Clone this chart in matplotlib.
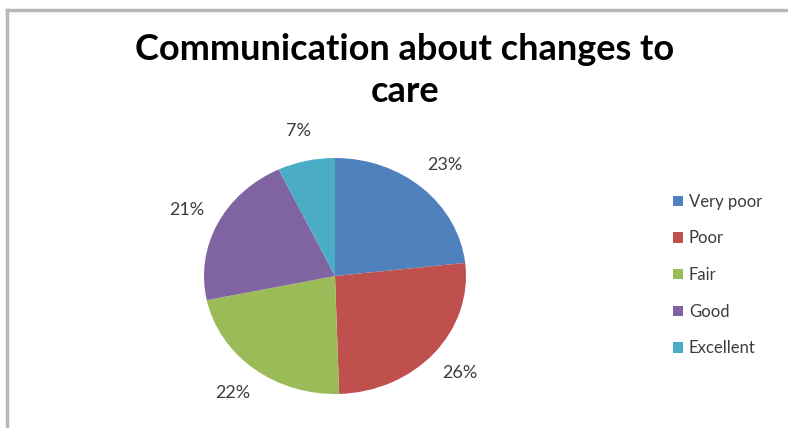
import matplotlib.pyplot as plt
from matplotlib.patches import Patch
from matplotlib.lines import Line2D

# data
categories = ["Very poor", "Poor", "Fair", "Good", "Excellent"]
shares = [23, 26, 22, 21, 7]
colors = ["#4F81BD", "#C0504D", "#9BBB59", "#8064A2", "#4BACC6"]

W, H = 788, 428
fig = plt.figure(figsize=(W / 100, H / 100), dpi=100)
fig.patch.set_facecolor("white")

# chart frame (top and left edges visible)
fig.add_artist(Line2D([7 / W, 7 / W], [0, 1 - 10 / H], color="#b8b8b8", lw=2.5))
fig.add_artist(Line2D([7 / W, 1], [1 - 10 / H, 1 - 10 / H], color="#b8b8b8", lw=2.5))

fig.text(405 / W, 1 - 50 / H, "Communication about changes to",
         ha="center", va="center", fontsize=26, fontweight="bold", family="Lato")
fig.text(405 / W, 1 - 91 / H, "care",
         ha="center", va="center", fontsize=26, fontweight="bold", family="Lato")

# pie is slightly wider than tall in the reference
cx, cy, rx, ry = 335, 276, 131, 118
ax = fig.add_axes([(cx - rx) / W, 1 - (cy + ry) / H, 2 * rx / W, 2 * ry / H])
wedges, _, autotexts = ax.pie(
    shares, colors=colors, startangle=90, counterclock=False,
    autopct="%1.0f%%", pctdistance=1.26, radius=1,
    textprops=dict(fontsize=13, color="#3c3c3c", family="Lato"),
)
ax.set_aspect("auto")
ax.set_xlim(-1, 1)
ax.set_ylim(-1, 1)
ax.axis("off")

handles = [Patch(facecolor=c, edgecolor="none") for c in colors]
fig.legend(handles, categories, loc="center left",
           bbox_to_anchor=(658 / W, 1 - 275 / H), frameon=False,
           prop=dict(family="Lato", size=12), labelcolor="#3c3c3c",
           handlelength=0.6, handleheight=0.6, handletextpad=0.35,
           labelspacing=1.24)

fig.savefig("out.png", dpi=100)
